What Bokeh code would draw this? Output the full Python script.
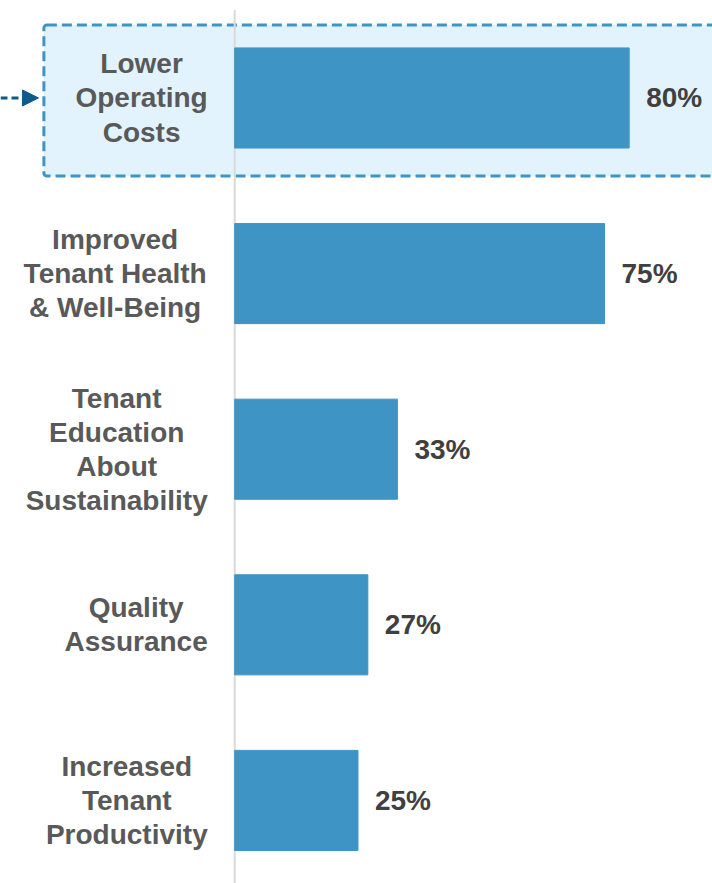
from bokeh.plotting import figure
from bokeh.models import Range1d, BoxAnnotation, Arrow, NormalHead, ColumnDataSource
from bokeh.core.properties import value
from bokeh.embed import file_html
from bokeh.resources import INLINE

# ---- data ----
categories = [
    "Lower\nOperating\nCosts",
    "Improved\nTenant Health\n& Well-Being",
    "Tenant\nEducation\nAbout\nSustainability",
    "Quality\nAssurance",
    "Increased\nTenant\nProductivity",
]
values = [80, 75, 33, 27, 25]
value_labels = [f"{v}%" for v in values]
highlight_index = 0

# ---- style ----
FONT = "Liberation Sans"
FONT_PX = 28
BAR_COLOR = "#3E95C5"
LABEL_COLOR = "#595959"
VALUE_COLOR = "#404040"

# Arial/Liberation Sans Bold advance widths (per 1000 em) for centering label blocks
W = {' ': 278, '&': 722, '-': 333, 'A': 722, 'B': 722, 'C': 722, 'E': 667, 'H': 722,
     'I': 278, 'L': 611, 'O': 778, 'P': 667, 'Q': 778, 'S': 667, 'T': 611, 'W': 944,
     'a': 556, 'b': 611, 'c': 556, 'd': 611, 'e': 556, 'g': 611, 'h': 611, 'i': 278,
     'l': 278, 'm': 889, 'n': 611, 'o': 611, 'p': 611, 'r': 389, 's': 556, 't': 333,
     'u': 611, 'v': 556, 'w': 778, 'y': 556}


def text_w(s):
    return sum(W.get(c, 600) for c in s) * FONT_PX / 1000.0


LABEL_RIGHT = -27  # px, right edge of label blocks relative to the value axis origin
label_offsets = [LABEL_RIGHT - max(text_w(l) for l in c.split("\n")) / 2 for c in categories]

ypos = list(range(len(categories)))
src = ColumnDataSource(dict(y=ypos, v=values, lab=categories, vl=value_labels, off=label_offsets))

p = figure(width=712, height=883, output_backend="svg", toolbar_location=None,
           x_range=Range1d(-47.5, 96.9), y_range=Range1d(4.473, -0.555),
           x_axis_location=None, y_axis_location=None, min_border=0,
           background_fill_color="white", border_fill_color="white")
p.outline_line_color = None
p.grid.visible = False

# highlight box around the first category
box = BoxAnnotation(left=-38.7, right=110, top=highlight_index - 0.415, bottom=highlight_index + 0.445,
                    fill_color="#E3F3FD", fill_alpha=1.0, line_color="#3E95C5", line_alpha=1.0,
                    line_width=3, line_dash="10 5", level="underlay", border_radius=3)
p.add_layout(box)

# vertical baseline
p.segment(x0=[0], y0=[-0.5], x1=[0], y1=[len(categories)], line_color="#D9D9D9", line_width=2)

# bars
p.hbar(y="y", left=0, right="v", height=0.57, source=src, fill_color=BAR_COLOR,
       line_color=BAR_COLOR, line_width=1)

# category labels
p.text(x=0, y="y", text="lab", x_offset="off", source=src, text_align="center",
       text_baseline="middle", text_font=value(FONT), text_font_style="bold",
       text_font_size=f"{FONT_PX}px", text_color=LABEL_COLOR, text_line_height=1.1)

# value labels
p.text(x="v", y="y", text="vl", x_offset=17, source=src, text_align="left",
       text_baseline="middle", text_font=value(FONT), text_font_style="bold",
       text_font_size=f"{FONT_PX}px", text_color=VALUE_COLOR)

# arrow pointing at the highlighted box
arrow = Arrow(end=NormalHead(size=16, fill_color="#0E5A8A", line_color="#0E5A8A"),
              x_start=-47.5, y_start=highlight_index, x_end=-39.8, y_end=highlight_index,
              line_color="#0E5A8A", line_width=3, line_dash="7 4")
p.add_layout(arrow)

open("out.html", "w").write(file_html(p, INLINE))
